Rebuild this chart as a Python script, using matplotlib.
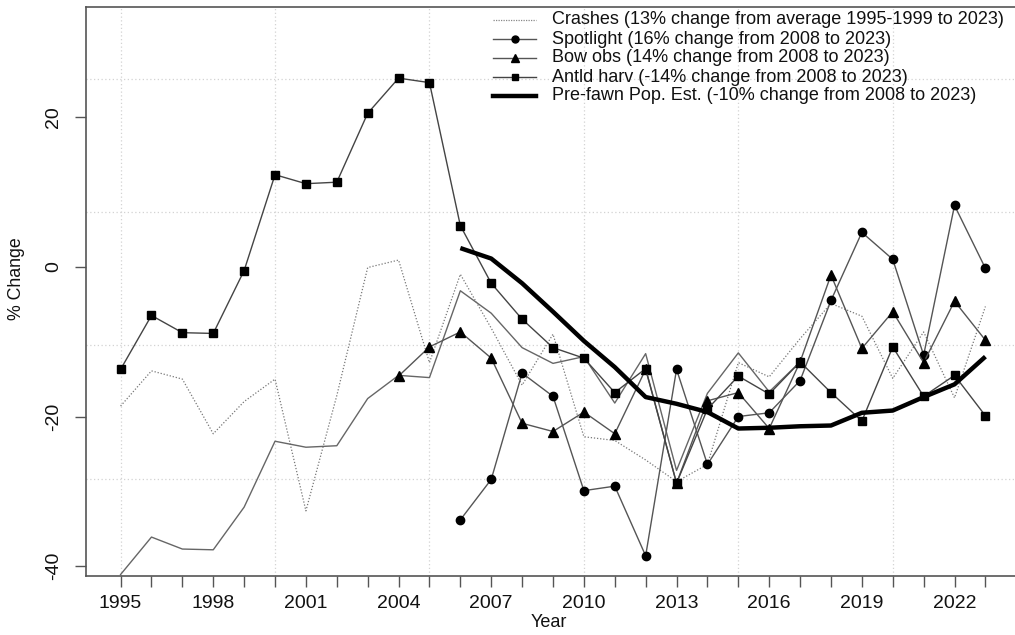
import matplotlib
matplotlib.use("Agg")
import matplotlib.pyplot as plt
from matplotlib.lines import Line2D

plt.rcParams['font.family'] = ['Liberation Sans', 'DejaVu Sans']

years_all = list(range(1995, 2024))
crashes = [-18.6, -13.9, -15.0, -22.3, -18.0, -15.0, -32.6, -17.2, -0.1, 0.9,
           -12.8, -1.0, -8.2, -15.8, -9.0, -22.7, -23.2, -25.8, -28.7, -26.4,
           -12.8, -14.7, -9.6, -4.9, -6.6, -14.9, -8.7, -17.5, -5.3]
other_years = list(range(1995, 2018))
other_index = [-41.1, -36.1, -37.7, -37.8, -32.1, -23.3, -24.1, -23.9, -17.6, -14.5,
               -14.8, -3.2, -6.2, -10.8, -12.9, -12.0, -18.2, -11.6, -27.2, -16.9,
               -11.5, -16.7, -12.7]
spot_years = list(range(2006, 2024))
spotlight = [-33.8, -28.4, -14.2, -17.3, -29.9, -29.3, -38.6, -13.7, -26.4, -20.0,
             -19.5, -15.2, -4.5, 4.6, 1.0, -11.8, 8.2, -0.2]
bow_years = list(range(2004, 2024))
bow_obs = [-14.6, -10.7, -8.7, -12.2, -20.9, -22.0, -19.4, -22.3, -13.7, -28.9,
           -17.9, -16.8, -21.6, -12.7, -1.1, -10.9, -6.0, -12.8, -4.6, -9.8]
antld_harv = [-13.7, -6.5, -8.8, -8.9, -0.5, 12.3, 11.1, 11.3, 20.5, 25.2,
              24.6, 5.5, -2.2, -7.0, -10.8, -12.2, -16.8, -13.6, -28.9, -19.0,
              -14.6, -17.0, -12.7, -16.8, -20.6, -10.7, -17.3, -14.5, -19.9]
fawn_years = list(range(2006, 2024))
prefawn = [2.5, 1.1, -2.2, -6.0, -9.9, -13.4, -17.4, -18.3, -19.4, -21.6,
           -21.5, -21.3, -21.2, -19.5, -19.2, -17.4, -15.7, -12.0]

labels = ["Crashes (13% change from average 1995-1999 to 2023)",
          "Spotlight (16% change from 2008 to 2023)",
          "Bow obs (14% change from 2008 to 2023)",
          "Antld harv (-14% change from 2008 to 2023)",
          "Pre-fawn Pop. Est. (-10% change from 2008 to 2023)"]
xtick_years = list(range(1995, 2024))
xtick_labels = [str(y) if (y - 1995) % 3 == 0 else "" for y in xtick_years]
ytick_vals = [-40, -20, 0, 20]
vgrid = [1995, 2000, 2005, 2010, 2015, 2020]
hgrid = [25.1, 7.3, -10.5, -28.4]

W, H = 1015, 635
fig = plt.figure(figsize=(W / 100, H / 100), dpi=100)
left, right, top, bottom = 86, 1020, 7, 576
ax = fig.add_axes([left / W, (H - bottom) / H, (right - left) / W, (bottom - top) / H])
ax.set_xlim(1993.88, 2024.12)
ax.set_ylim(-41.3, 34.7)

for g in vgrid:
    ax.axvline(g, color='#d3d3d3', lw=0.9, ls=(0, (1, 2)), zorder=0)
for g in hgrid:
    ax.axhline(g, color='#d3d3d3', lw=0.9, ls=(0, (1, 2)), zorder=0)

line_col = '#555555'
ax.plot(years_all, crashes, color='#777777', lw=0.9, ls=(0, (1, 1.5)), zorder=2)
ax.plot(other_years, other_index, color='#666666', lw=1.0, zorder=2)
ax.plot(spot_years, spotlight, color=line_col, lw=1.0, marker='o', ms=6,
        mfc='black', mec='black', zorder=3)
ax.plot(bow_years, bow_obs, color=line_col, lw=1.0, marker='^', ms=7,
        mfc='black', mec='black', zorder=3)
ax.plot(years_all, antld_harv, color='#444444', lw=1.0, marker='s', ms=6,
        mfc='black', mec='black', zorder=3)
ax.plot(fawn_years, prefawn, color='black', lw=3.2, zorder=4,
        solid_capstyle='butt', solid_joinstyle='round')

for s in ['left', 'bottom', 'top']:
    ax.spines[s].set_color('#555555')
    ax.spines[s].set_linewidth(1.2)
ax.spines['right'].set_visible(False)

ax.set_xticks(xtick_years)
ax.set_xticklabels(xtick_labels)
ax.set_yticks(ytick_vals)
ax.set_yticklabels([str(v) for v in ytick_vals], rotation=90, va='center')
ax.tick_params(axis='both', length=8, width=1.0, color='#555555', labelsize=14,
               labelcolor='#111111')
ax.tick_params(axis='x', pad=6)
ax.tick_params(axis='y', pad=9)

ax.set_xlabel("Year", fontsize=13, color='#111111')
ax.xaxis.set_label_coords(0.4957, -0.081)
ax.xaxis.label.set_va('center')
ax.set_ylabel("% Change", fontsize=12.8, color='#111111')
ax.yaxis.set_label_coords(-0.074, 0.522)
ax.yaxis.label.set_va('center')

# legend (no frame), drawn row by row in figure pixel positions
handle_styles = [
    dict(color='#888888', lw=0.9, ls=(0, (1, 1)), marker=None),
    dict(color=line_col, lw=1.0, ls='-', marker='o', ms=5),
    dict(color=line_col, lw=1.0, ls='-', marker='^', ms=6),
    dict(color='#444444', lw=1.0, ls='-', marker='s', ms=5),
    dict(color='black', lw=3.2, ls='-', marker=None),
]
hx0, hx1, tx = 493, 536, 552
row0, drow = 20, 19
for i, (lab, st) in enumerate(zip(labels, handle_styles)):
    yf = 1 - (row0 + i * drow) / H
    fig.add_artist(Line2D([hx0 / W, hx1 / W], [yf, yf], transform=fig.transFigure,
                          color=st['color'], lw=st['lw'], ls=st['ls']))
    if st['marker']:
        fig.add_artist(Line2D([(hx0 + hx1) / 2 / W], [yf], transform=fig.transFigure,
                              ls='none', marker=st['marker'], ms=st['ms'],
                              mfc='black', mec='black'))
    fig.text(tx / W, yf, lab, fontsize=13, color='#111111', va='center', ha='left')

fig.savefig("out.png", dpi=100)
